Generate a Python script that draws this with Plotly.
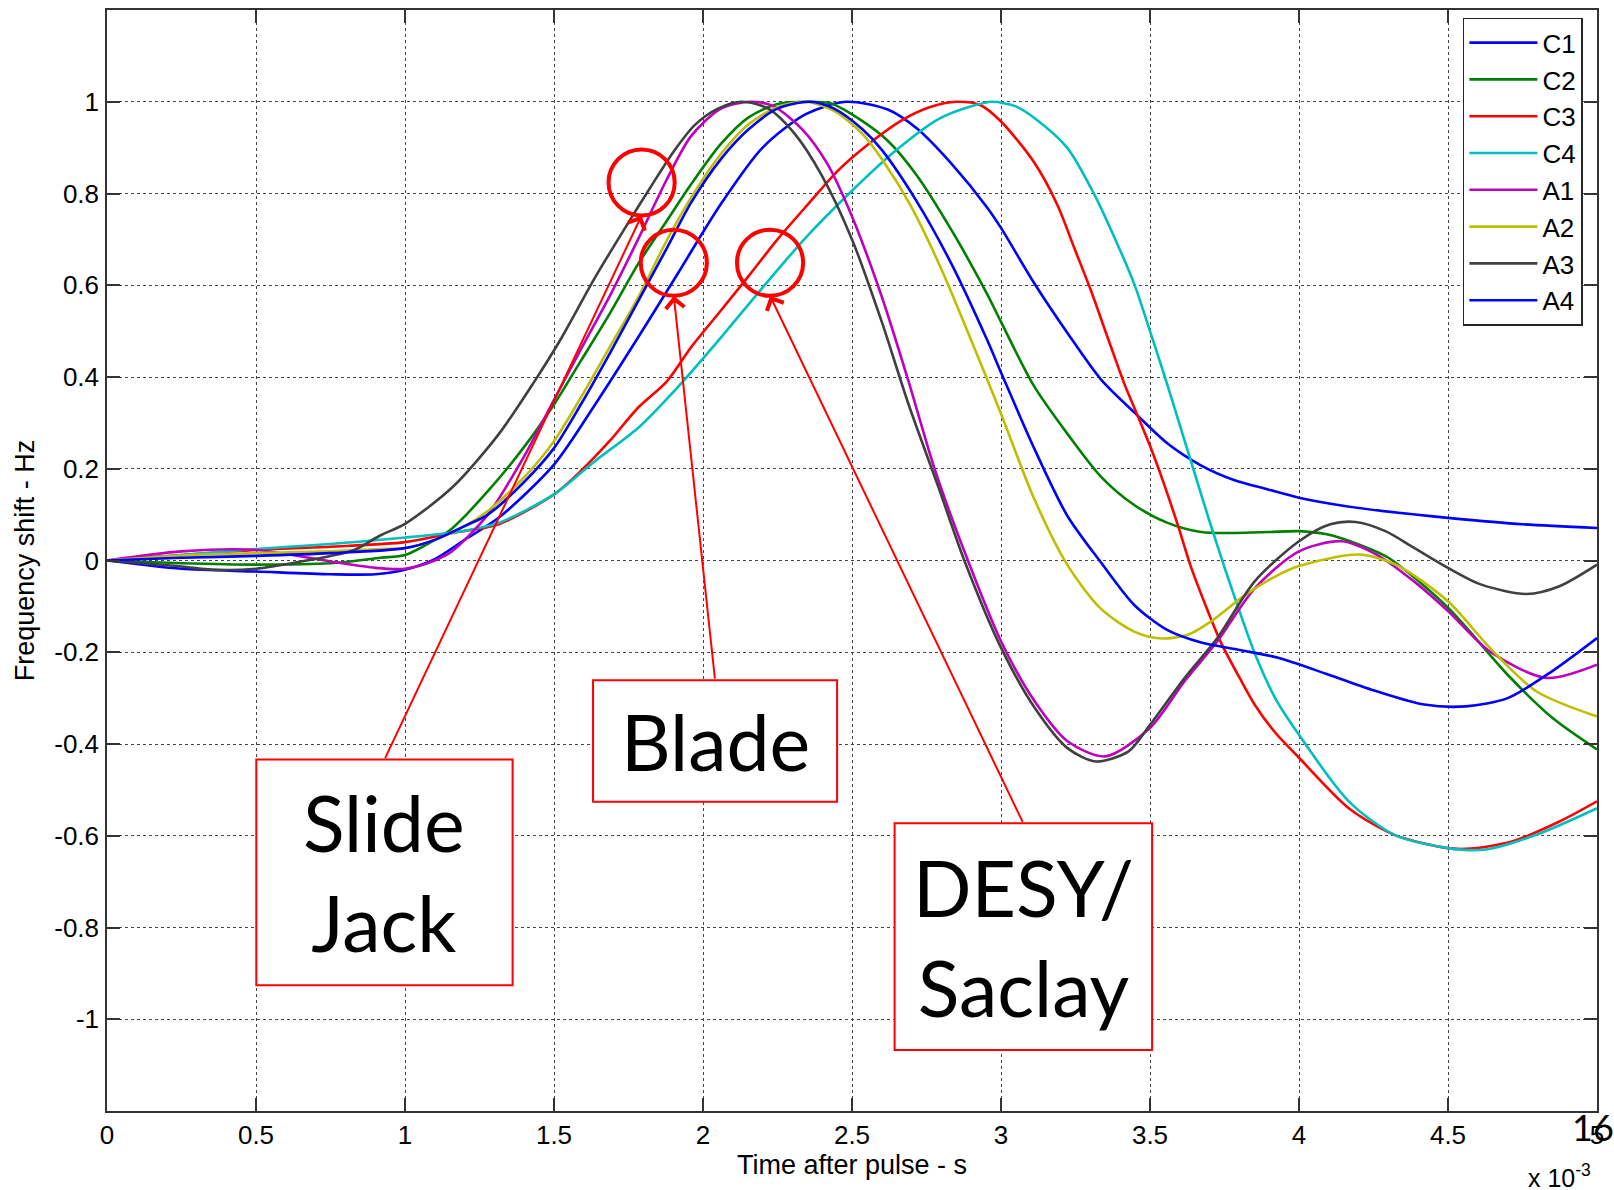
import plotly.graph_objects as go

# ---------------- data (time in units of 1e-3 s, normalised frequency shift) ----------------
C1_x = [0, 0.25, 0.5, 0.75, 0.9, 1.0, 1.1, 1.2, 1.314, 1.5, 1.638, 1.782, 1.914, 2.06, 2.2, 2.345, 2.48,
        2.62, 2.717, 2.835, 2.954, 3.0, 3.111, 3.223, 3.335, 3.447, 3.559, 3.672, 3.784, 3.896, 4.0, 4.153,
        4.333, 4.5, 4.75, 5.0]
C1_y = [0, -0.018, -0.024, -0.03, -0.03, -0.02, 0.003, 0.045, 0.093, 0.209, 0.34, 0.486, 0.624, 0.777,
        0.9, 0.973, 1.0, 0.983, 0.942, 0.864, 0.769, 0.725, 0.605, 0.496, 0.395, 0.323, 0.255, 0.207, 0.175,
        0.155, 0.137, 0.119, 0.104, 0.093, 0.079, 0.071]

C2_x = [0, 0.25, 0.5, 0.75, 0.918, 1.0, 1.1, 1.158, 1.278, 1.398, 1.5, 1.59, 1.686, 1.782, 1.878, 1.96,
        2.06, 2.153, 2.25, 2.357, 2.43, 2.525, 2.62, 2.717, 2.835, 2.954, 3.0, 3.111, 3.223, 3.335, 3.447,
        3.559, 3.672, 3.784, 3.9, 4.0, 4.093, 4.2, 4.3, 4.5, 4.7, 4.85, 5.0]
C2_y = [0, -0.006, -0.009, -0.006, 0.006, 0.012, 0.045, 0.07, 0.151, 0.246, 0.34, 0.435, 0.537, 0.646,
        0.74, 0.82, 0.908, 0.966, 0.995, 1.0, 0.996, 0.962, 0.915, 0.84, 0.719, 0.58, 0.52, 0.38, 0.276,
        0.183, 0.121, 0.082, 0.062, 0.06, 0.062, 0.064, 0.057, 0.035, 0.006, -0.103, -0.249, -0.343, -0.412]

C3_x = [0, 0.25, 0.5, 0.75, 1.0, 1.158, 1.314, 1.5, 1.59, 1.686, 1.782, 1.878, 1.96, 2.06, 2.153, 2.25,
        2.357, 2.453, 2.56, 2.668, 2.76, 2.85, 2.93, 3.0, 3.111, 3.19, 3.246, 3.302, 3.358, 3.414, 3.459,
        3.5, 3.548, 3.593, 3.638, 3.694, 3.739, 3.8, 3.852, 3.92, 4.0, 4.167, 4.32, 4.5, 4.575, 4.717,
        4.874, 5.0]
C3_y = [0, 0.012, 0.023, 0.03, 0.04, 0.06, 0.079, 0.144, 0.195, 0.26, 0.333, 0.39, 0.465, 0.545, 0.62,
        0.70, 0.78, 0.85, 0.91, 0.96, 0.988, 1.0, 0.993, 0.957, 0.868, 0.774, 0.681, 0.588, 0.486, 0.385,
        0.315, 0.25, 0.165, 0.078, -0.015, -0.11, -0.18, -0.255, -0.315, -0.375, -0.43, -0.54, -0.598,
        -0.627, -0.628, -0.612, -0.569, -0.525]

C4_x = [0, 0.25, 0.5, 0.75, 1.0, 1.2, 1.314, 1.5, 1.638, 1.782, 1.914, 2.06, 2.2, 2.345, 2.5, 2.646,
        2.79, 2.9, 2.97, 3.05, 3.111, 3.223, 3.313, 3.391, 3.447, 3.5, 3.55, 3.6, 3.65, 3.7, 3.75, 3.8,
        3.85, 3.92, 4.0, 4.167, 4.32, 4.5, 4.626, 4.796, 5.0]
C4_y = [0, 0.012, 0.025, 0.036, 0.05, 0.065, 0.082, 0.144, 0.217, 0.289, 0.377, 0.486, 0.595, 0.704,
        0.806, 0.893, 0.962, 0.99, 1.0, 0.99, 0.965, 0.899, 0.798, 0.689, 0.603, 0.50, 0.40, 0.295, 0.19,
        0.085, -0.015, -0.11, -0.2, -0.30, -0.38, -0.525, -0.598, -0.627, -0.63, -0.598, -0.54]

A1_x = [0, 0.25, 0.5, 0.75, 0.9, 1.0, 1.1, 1.158, 1.278, 1.398, 1.5, 1.59, 1.686, 1.782, 1.878, 1.96,
        2.06, 2.16, 2.237, 2.333, 2.417, 2.5, 2.6, 2.69, 2.777, 2.877, 3.0, 3.113, 3.223, 3.35, 3.5,
        3.616, 3.726, 3.852, 4.0, 4.143, 4.26, 4.385, 4.5, 4.64, 4.83, 5.0]
A1_y = [0, 0.02, 0.023, -0.002, -0.016, -0.018, 0.0, 0.02, 0.10, 0.225, 0.35, 0.46, 0.575, 0.70, 0.83,
        0.925, 0.985, 1.0, 0.99, 0.94, 0.865, 0.75, 0.575, 0.39, 0.2, 0.02, -0.176, -0.307, -0.394,
        -0.427, -0.365, -0.263, -0.176, -0.06, 0.02, 0.042, 0.013, -0.045, -0.11, -0.198, -0.256, -0.227]

A2_x = [0, 0.25, 0.5, 0.75, 0.918, 1.0, 1.1, 1.2, 1.278, 1.398, 1.5, 1.59, 1.686, 1.782, 1.878, 1.96,
        2.06, 2.153, 2.25, 2.345, 2.44, 2.535, 2.6, 2.7, 2.8, 2.9, 3.0, 3.111, 3.223, 3.335, 3.447, 3.537,
        3.627, 3.7, 3.82, 3.92, 4.0, 4.2, 4.325, 4.5, 4.64, 4.796, 5.0]
A2_y = [0, 0.011, 0.016, 0.02, 0.025, 0.027, 0.045, 0.075, 0.108, 0.18, 0.26, 0.355, 0.464, 0.573, 0.697,
        0.791, 0.886, 0.951, 0.988, 1.0, 0.98, 0.93, 0.875, 0.77, 0.635, 0.48, 0.32, 0.135, -0.01, -0.105,
        -0.155, -0.17, -0.162, -0.135, -0.075, -0.035, -0.012, 0.013, -0.009, -0.089, -0.19, -0.285, -0.34]

A3_x = [0, 0.25, 0.35, 0.5, 0.67, 0.75, 0.83, 0.918, 1.0, 1.158, 1.314, 1.434, 1.524, 1.636, 1.748, 1.83,
        1.90, 1.972, 2.05, 2.13, 2.219, 2.308, 2.398, 2.5, 2.6, 2.69, 2.79, 2.877, 3.0, 3.113, 3.223,
        3.318, 3.428, 3.5, 3.616, 3.726, 3.852, 4.0, 4.105, 4.19, 4.29, 4.385, 4.5, 4.61, 4.764, 4.874, 5.0]
A3_y = [0, -0.013, -0.02, -0.018, 0.0, 0.01, 0.023, 0.055, 0.08, 0.159, 0.275, 0.39, 0.484, 0.615, 0.735,
        0.82, 0.89, 0.949, 0.985, 1.0, 0.985, 0.93, 0.84, 0.70, 0.52, 0.34, 0.16, 0.0, -0.19, -0.321,
        -0.409, -0.438, -0.416, -0.358, -0.256, -0.169, -0.045, 0.042, 0.079, 0.084, 0.064, 0.028, -0.016,
        -0.052, -0.073, -0.056, -0.009]

A4_x = [0, 0.25, 0.5, 0.75, 1.0, 1.1, 1.2, 1.278, 1.398, 1.5, 1.59, 1.686, 1.782, 1.878, 1.96, 2.06,
        2.153, 2.25, 2.36, 2.44, 2.535, 2.6, 2.715, 2.835, 2.954, 3.0, 3.111, 3.223, 3.335, 3.447, 3.559,
        3.672, 3.8, 3.93, 4.1, 4.26, 4.42, 4.56, 4.7, 4.85, 5.0]
A4_y = [0, 0.006, 0.01, 0.016, 0.027, 0.045, 0.075, 0.1, 0.17, 0.245, 0.34, 0.45, 0.565, 0.68, 0.78,
        0.875, 0.94, 0.985, 1.0, 0.985, 0.94, 0.895, 0.785, 0.645, 0.48, 0.41, 0.245, 0.097, -0.004, -0.097,
        -0.152, -0.179, -0.195, -0.212, -0.249, -0.285, -0.314, -0.318, -0.3, -0.241, -0.169]

SERIES_NAMES = ["C1", "C2", "C3", "C4", "A1", "A2", "A3", "A4"]
SERIES_X = [C1_x, C2_x, C3_x, C4_x, A1_x, A2_x, A3_x, A4_x]
SERIES_Y = [C1_y, C2_y, C3_y, C4_y, A1_y, A2_y, A3_y, A4_y]

X_TICKS = [0, 0.5, 1, 1.5, 2, 2.5, 3, 3.5, 4, 4.5, 5]
X_TICK_TEXT = ["0", "0.5", "1", "1.5", "2", "2.5", "3", "3.5", "4", "4.5", "5"]
Y_TICKS = [-1, -0.8, -0.6, -0.4, -0.2, 0, 0.2, 0.4, 0.6, 0.8, 1]
Y_TICK_TEXT = ["-1", "-0.8", "-0.6", "-0.4", "-0.2", "0", "0.2", "0.4", "0.6", "0.8", "1"]

# annotation callouts: circle centre, label text
CALLOUT_LABELS = ["Slide<br>Jack", "Blade", "DESY/<br>Saclay"]
CIRCLE_CENTERS = [(1.794, 0.824), (1.902, 0.649), (2.225, 0.649)]

# ---------------- styles ----------------
COLORS = ["#0000FF", "#008000", "#FF0000", "#00BFBF", "#BF00BF", "#BFBF00", "#404040", "#0000FF"]
FONT = "Liberation Sans, Arial, sans-serif"
BOX_FONT = "Lato, Carlito, Calibri, sans-serif"
BOXES = [(0.501, 1.361, -0.926, -0.434), (1.631, 2.45, -0.526, -0.261), (2.643, 3.507, -1.067, -0.573)]
RX, RY = 0.111, 0.072

fig = go.Figure()
for name, xs, ys, col in zip(SERIES_NAMES, SERIES_X, SERIES_Y, COLORS):
    fig.add_trace(go.Scatter(x=xs, y=ys, name=name, mode="lines",
                             line=dict(color=col, width=2.6, shape="spline", smoothing=0.8)))

shapes = []
annotations = []
for (cx, cy), (x0, x1, y0, y1), label in zip(CIRCLE_CENTERS, BOXES, CALLOUT_LABELS):
    shapes.append(dict(type="circle", xref="x", yref="y", x0=cx - RX, x1=cx + RX, y0=cy - RY, y1=cy + RY,
                       line=dict(color="#FF0000", width=4), layer="above"))
    shapes.append(dict(type="rect", xref="x", yref="y", x0=x0, x1=x1, y0=y0, y1=y1,
                       line=dict(color="#FF0000", width=2), fillcolor="white", layer="above"))
    annotations.append(dict(x=(x0 + x1) / 2, y=(y0 + y1) / 2, xref="x", yref="y", text=label,
                            showarrow=False, font=dict(family=BOX_FONT, size=77, color="black"),
                            align="center"))
    annotations.append(dict(x=cx, y=cy - RY, xref="x", yref="y", ax=(x0 + x1) / 2, ay=y1,
                            axref="x", ayref="y", text="", showarrow=True, arrowhead=4,
                            arrowsize=1.8, arrowwidth=2, arrowcolor="#FF0000", standoff=0))

annotations.append(dict(x=0.997, y=-0.0145, xref="paper", yref="paper", text="16", showarrow=False,
                        font=dict(family=BOX_FONT, size=36, color="black"), xanchor="center", yanchor="middle"))
annotations.append(dict(x=0.975, y=-0.059, xref="paper", yref="paper", text="x 10<sup>-3</sup>",
                        showarrow=False, font=dict(family=FONT, size=25, color="black"),
                        xanchor="center", yanchor="middle"))

axis_common = dict(showline=True, linecolor="#333333", linewidth=1.5, mirror="ticks",
                   ticks="inside", ticklen=13, tickwidth=1.5, tickcolor="#333333",
                   showgrid=True, gridcolor="#444444", griddash="dot", gridwidth=1, zeroline=False,
                   tickfont=dict(family=FONT, size=26, color="black"))

fig.update_layout(
    width=1614, height=1190,
    margin=dict(l=107, r=17, t=10, b=79, autoexpand=False),
    paper_bgcolor="white", plot_bgcolor="white",
    shapes=shapes, annotations=annotations,
    showlegend=True,
    legend=dict(x=0.910, y=0.993, xanchor="left", yanchor="top", bgcolor="white",
                bordercolor="#262626", borderwidth=1.5, itemwidth=68, tracegroupgap=0,
                font=dict(family=FONT, size=26, color="black")),
    xaxis=dict(range=[0, 5], tickvals=X_TICKS, ticktext=X_TICK_TEXT, ticklabelstandoff=0,
               title=dict(text="Time after pulse - s", font=dict(family=FONT, size=27, color="black"),
                          standoff=6),
               **axis_common),
    yaxis=dict(range=[-1.2, 1.2], tickvals=Y_TICKS, ticktext=Y_TICK_TEXT, ticklabelstandoff=1,
               title=dict(text="Frequency shift - Hz", font=dict(family=FONT, size=27, color="black"),
                          standoff=12),
               **axis_common),
)

fig.write_html("out.html")
